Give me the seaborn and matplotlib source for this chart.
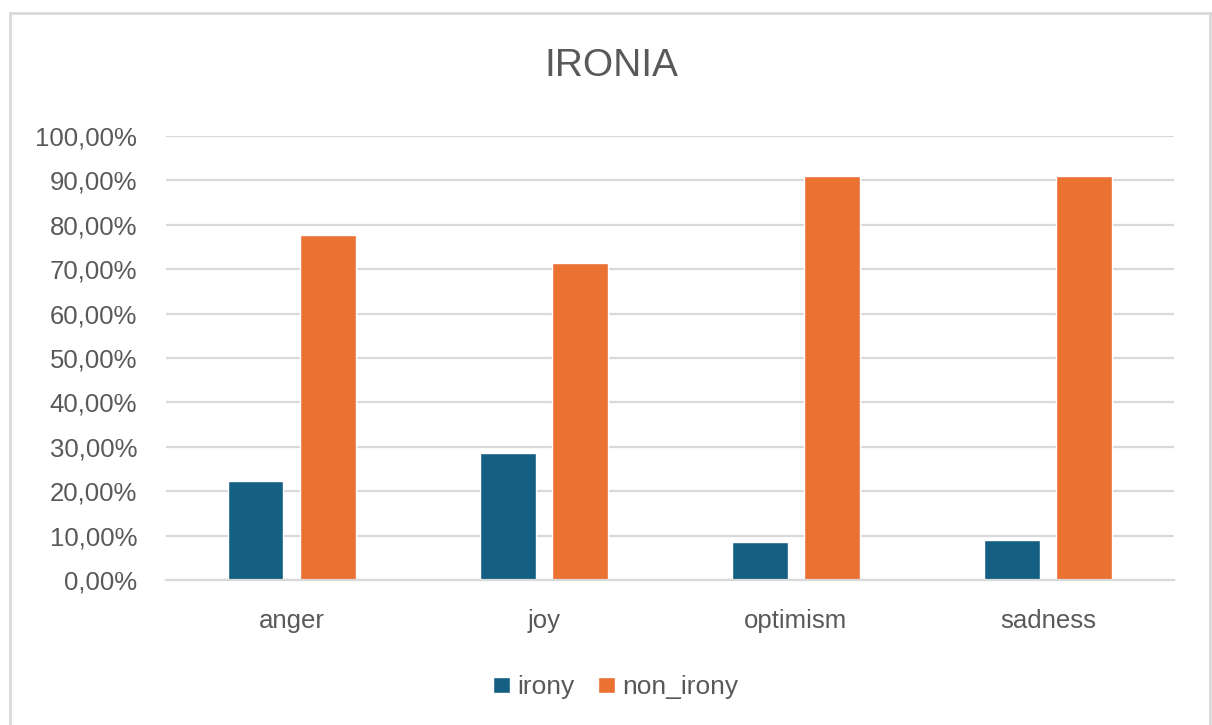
import matplotlib
matplotlib.use("Agg")
import matplotlib.pyplot as plt
from matplotlib.patches import Rectangle
from matplotlib.ticker import FuncFormatter, MultipleLocator
import seaborn as sns
import pandas as pd

categories = ["anger", "joy", "optimism", "sadness"]
irony = [22.2, 28.5, 8.5, 8.9]
non_irony = [77.8, 71.5, 91.1, 91.1]
series_names = ["irony", "non_irony"]
title = "IRONIA"

colors = {"irony": "#156082", "non_irony": "#E97132"}
text_gray = "#595959"
grid_gray = "#D9D9D9"

df = pd.DataFrame({
    "category": categories * 2,
    "series": [series_names[0]] * len(categories) + [series_names[1]] * len(categories),
    "value": irony + non_irony,
})

sns.set_theme(style="white")
plt.rcParams["font.family"] = ["Liberation Sans", "DejaVu Sans"]

W, H = 1212, 725
fig = plt.figure(figsize=(W / 100, H / 100), dpi=100)
fig.patch.set_facecolor("white")

# chart frame
fig.add_artist(Rectangle((10 / W, -0.01), (1210 - 10) / W, 1 - 13 / H + 0.01,
                         transform=fig.transFigure, fill=False,
                         edgecolor="#D9D9D9", linewidth=2))

left, right, top, bottom = 165.5, 1174, 136, 580
ax = fig.add_axes([left / W, 1 - bottom / H, (right - left) / W, (bottom - top) / H])

sns.barplot(data=df, x="category", y="value", hue="series", order=categories,
            hue_order=series_names, palette=colors, width=0.572, gap=0.224,
            saturation=1, ax=ax, legend=True)

ax.set_ylim(0, 100)
ax.set_xlim(-0.5, len(categories) - 0.5)
ax.yaxis.set_major_locator(MultipleLocator(10))
ax.yaxis.set_major_formatter(FuncFormatter(lambda v, _: f"{v:.2f}%".replace(".", ",")))
ax.grid(axis="y", color=grid_gray, linewidth=1.6)
ax.set_axisbelow(True)
for s in ["top", "right", "left"]:
    ax.spines[s].set_visible(False)
ax.spines["bottom"].set_color(grid_gray)
ax.spines["bottom"].set_linewidth(1.6)
ax.set_xlabel("")
ax.set_ylabel("")
ax.tick_params(axis="y", length=0, pad=20.5, labelsize=18.5, labelcolor=text_gray)
ax.tick_params(axis="x", length=0, pad=21, labelsize=18.5, labelcolor=text_gray)

fig.text(611 / W, 1 - 66 / H, title, ha="center", va="center", fontsize=28,
         color=text_gray)

handles, labels = ax.get_legend_handles_labels()
ax.legend_.remove()
fig.legend(handles, labels, loc="center", bbox_to_anchor=(615.5 / W, 1 - 687 / H),
           ncol=2, frameon=False, fontsize=19, labelcolor=text_gray,
           handlelength=0.64, handleheight=0.57, handletextpad=0.28,
           columnspacing=0.9)

fig.savefig("out.png", dpi=100, facecolor="white")
